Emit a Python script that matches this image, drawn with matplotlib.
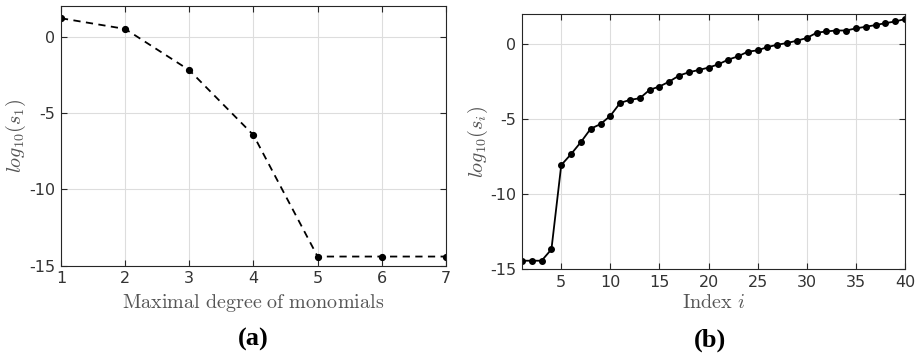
import numpy as np
from matplotlib import pyplot as plt

plt.rcParams['mathtext.fontset'] = 'cm'
plt.rcParams['font.family'] = ['DejaVu Sans']

# panel (a)
degree = [1, 2, 3, 4, 5, 6, 7]
log_s1 = [1.2, 0.5, -2.2, -6.45, -14.4, -14.4, -14.4]

# panel (b)
index_i = list(range(1, 41))
log_si = [-14.43, -14.43, -14.43, -13.67, -8.06, -7.33, -6.53, -5.64, -5.33, -4.78,
          -3.92, -3.72, -3.61, -3.05, -2.83, -2.50, -2.10, -1.88, -1.73, -1.57,
          -1.35, -1.04, -0.82, -0.51, -0.42, -0.20, -0.05, 0.07, 0.22, 0.40,
          0.75, 0.84, 0.90, 0.90, 1.04, 1.15, 1.26, 1.39, 1.50, 1.66]

yticks = [0, -5, -10, -15]
box_col = '#262626'
tick_col = '#333333'
label_col = '#555555'

fig = plt.figure(figsize=(9.18, 3.54), dpi=100)
ax1 = fig.add_axes([0.0664, 0.2494, 0.4194, 0.7336])
ax2 = fig.add_axes([0.5686, 0.2393, 0.4172, 0.7212])

ax1.plot(degree, log_s1, 'k--', lw=1.3, marker='o', ms=4.2, dashes=(4, 3))
ax2.plot(index_i, log_si, 'k-', lw=1.3, marker='o', ms=4)

ax1.set_xlim(1, 7)
ax1.set_xticks(degree)
ax2.set_xlim(1, 40)
ax2.set_xticks([5, 10, 15, 20, 25, 30, 35, 40])

for ax in (ax1, ax2):
    ax.set_ylim(-15, 2)
    ax.set_yticks(yticks)
    ax.set_yticklabels([str(t) for t in yticks])
    ax.grid(True, color='#dddddd', lw=0.8)
    ax.set_axisbelow(True)
    ax.tick_params(direction='in', length=4, width=0.8, colors=box_col,
                   labelcolor=tick_col, labelsize=11.5, top=True, right=True, pad=4)
    for sp in ax.spines.values():
        sp.set_color(box_col)
        sp.set_linewidth(0.8)

ax1.set_ylabel(r'$log_{10}(s_1)$', fontsize=14.5, color=label_col, labelpad=1)
ax2.set_ylabel(r'$log_{10}(s_i)$', fontsize=14.5, color=label_col, labelpad=0)
ax1.set_xlabel(r'$\mathrm{Maximal\ degree\ of\ monomials}$', fontsize=14.5,
               color=label_col, labelpad=4)
ax2.set_xlabel(r'$\mathrm{Index}\ i$', fontsize=14.5, color=label_col, labelpad=2)

fig.text(0.276, 0.04, '(a)', fontsize=19, fontweight='bold',
         family='Liberation Serif', ha='center', va='center')
fig.text(0.7735, 0.04, '(b)', fontsize=19, fontweight='bold',
         family='Liberation Serif', ha='center', va='center')

fig.savefig('out.png', dpi=100)
